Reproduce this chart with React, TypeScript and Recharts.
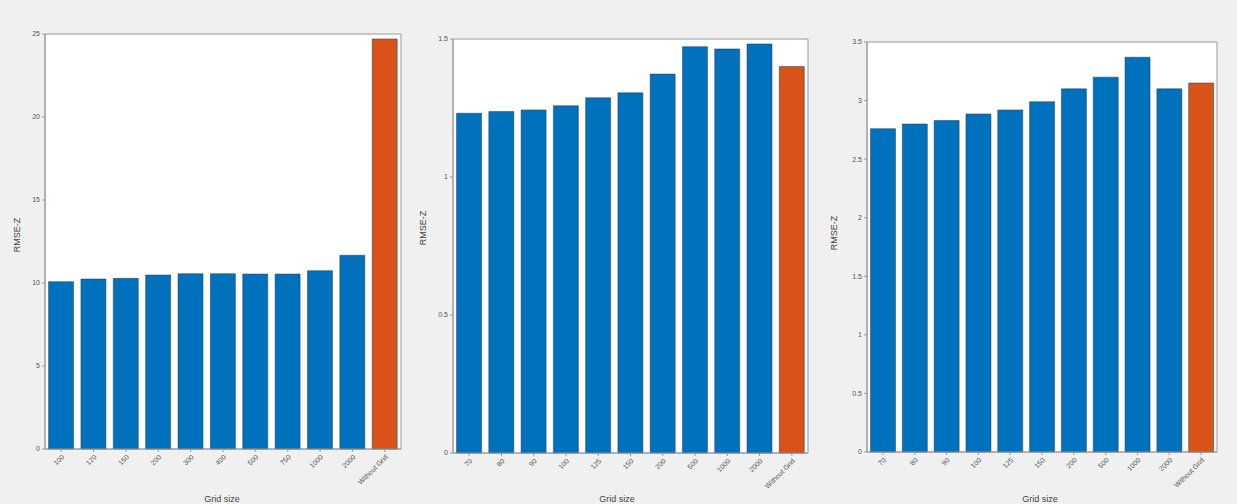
import { BarChart, Bar, XAxis, YAxis, Cell, CartesianGrid, ReferenceArea } from "recharts";

const gridSizesA = ["100", "120", "150", "200", "300", "400", "500", "750", "1000", "2000", "Without Grid"];
const gridSizesB = ["70", "80", "90", "100", "125", "150", "200", "500", "1000", "2000", "Without Grid"];

const rmseA = [10.08, 10.24, 10.28, 10.48, 10.56, 10.56, 10.54, 10.54, 10.74, 11.67, 24.7];
const rmseB = [1.231, 1.237, 1.243, 1.258, 1.287, 1.305, 1.373, 1.472, 1.464, 1.482, 1.4];
const rmseC = [2.76, 2.8, 2.83, 2.886, 2.92, 2.99, 3.1, 3.2, 3.37, 3.1, 3.15];

const ticksA = [0, 5, 10, 15, 20, 25];
const ticksB = [0, 0.5, 1, 1.5];
const ticksC = [0, 0.5, 1, 1.5, 2, 2.5, 3, 3.5];

const BLUE = "#0072BD";
const ORANGE = "#D95319";
const AXIS = "#9a9a9a";
const H = 504;

type PanelProps = {
  left: number;
  width: number;
  top: number;
  bottom: number;
  mLeft: number;
  mRight: number;
  names: string[];
  values: number[];
  ticks: number[];
};

function Panel({ left, width, top, bottom, mLeft, mRight, names, values, ticks }: PanelProps) {
  const data = names.map((name, i) => ({ name, value: values[i] }));
  const max = ticks[ticks.length - 1];
  return (
    <div style={{ position: "absolute", left, top: 0 }}>
      <BarChart
        width={width}
        height={H}
        data={data}
        margin={{ top, bottom: 0, left: mLeft, right: mRight }}
        barCategoryGap="11%"
      >
        <CartesianGrid fill="#ffffff" horizontal={false} vertical={false} />
        <ReferenceArea y1={0} y2={max} stroke={AXIS} strokeWidth={1} fill="none" fillOpacity={0} ifOverflow="visible" />
        <XAxis
          dataKey="name"
          height={H - bottom}
          interval={0}
          stroke={AXIS}
          tickSize={3}
          tick={{ fontSize: 7, fill: "#555", angle: -45, textAnchor: "end", fontFamily: "Liberation Sans" }}
        />
        <YAxis
          width={30}
          domain={[0, max]}
          ticks={ticks}
          stroke={AXIS}
          tickSize={3}
          tick={{ fontSize: 7, fill: "#555", fontFamily: "Liberation Sans" }}
        />
        <Bar dataKey="value" isAnimationActive={false} stroke="#1f3a55" strokeWidth={0.5}>
          {data.map((d) => (
            <Cell key={d.name} fill={d.name === "Without Grid" ? ORANGE : BLUE} />
          ))}
        </Bar>
      </BarChart>
    </div>
  );
}

export default function App() {
  const labelStyle = { fontSize: 9, fill: "#444", fontFamily: "Liberation Sans" };
  return (
    <div
      style={{
        position: "absolute",
        left: 0,
        top: 0,
        width: 1237,
        height: H,
        background: "#f0f0f0",
        overflow: "hidden",
      }}
    >
      <Panel left={0} width={410} top={34} bottom={449} mLeft={15} mRight={9} names={gridSizesA} values={rmseA} ticks={ticksA} />
      <Panel left={410} width={410} top={39} bottom={453} mLeft={13} mRight={12} names={gridSizesB} values={rmseB} ticks={ticksB} />
      <Panel left={820} width={417} top={42} bottom={452} mLeft={17} mRight={20} names={gridSizesB} values={rmseC} ticks={ticksC} />
      <svg width={1237} height={H} style={{ position: "absolute", left: 0, top: 0, pointerEvents: "none" }}>
        <text x={18} y={235} transform="rotate(-90 18 235)" textAnchor="middle" dominantBaseline="middle" style={labelStyle}>RMSE-Z</text>
        <text x={424} y={228} transform="rotate(-90 424 228)" textAnchor="middle" dominantBaseline="middle" style={labelStyle}>RMSE-Z</text>
        <text x={835} y={233} transform="rotate(-90 835 233)" textAnchor="middle" dominantBaseline="middle" style={labelStyle}>RMSE-Z</text>
        <text x={222} y={496} textAnchor="middle" dominantBaseline="hanging" style={labelStyle}>Grid size</text>
        <text x={617} y={496} textAnchor="middle" dominantBaseline="hanging" style={labelStyle}>Grid size</text>
        <text x={1040} y={496} textAnchor="middle" dominantBaseline="hanging" style={labelStyle}>Grid size</text>
      </svg>
    </div>
  );
}
